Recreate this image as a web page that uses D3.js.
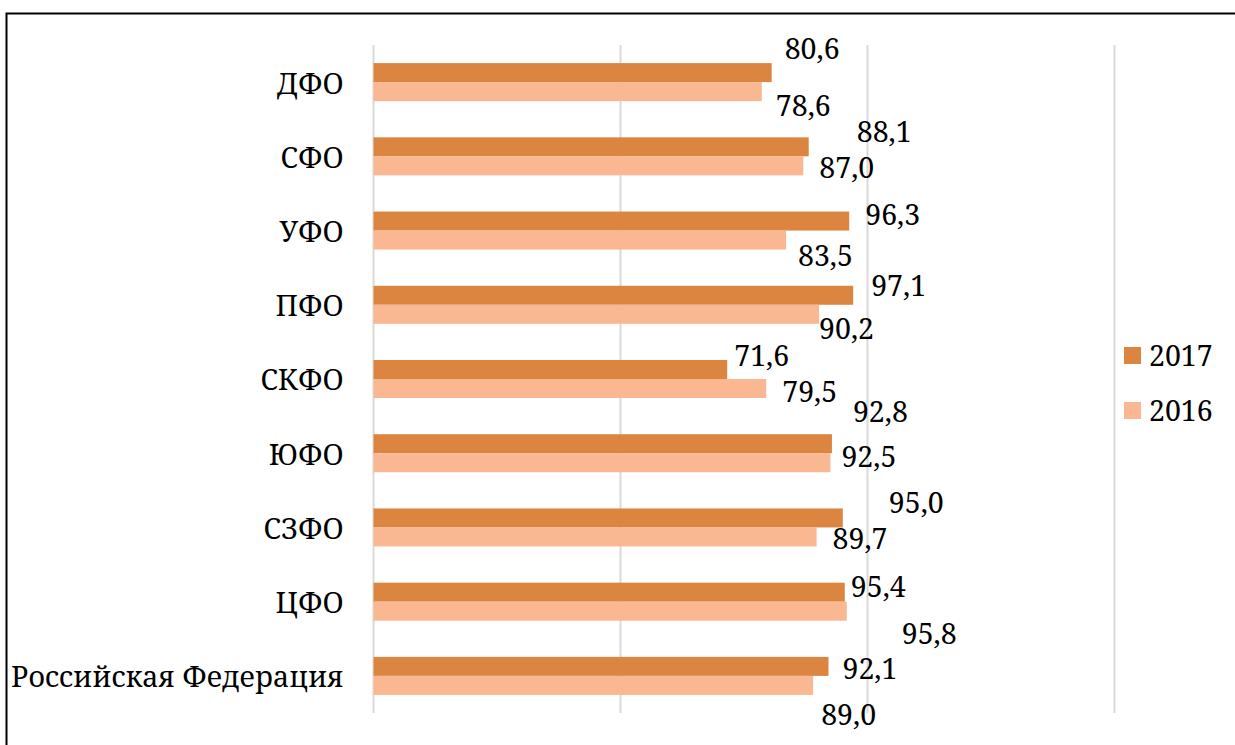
<!DOCTYPE html>
<html><head><meta charset="utf-8">
<script src="https://cdn.jsdelivr.net/npm/d3@7"></script>
<style>body{margin:0;background:#fff}svg{display:block}</style>
</head><body><svg id="c" width="1235" height="745"></svg>
<script>
const categories = ["ДФО","СФО","УФО","ПФО","СКФО","ЮФО","СЗФО","ЦФО","Российская Федерация"];
const values2017 = [80.6,88.1,96.3,97.1,71.6,92.8,95.0,95.4,92.1];
const values2016 = [78.6,87.0,83.5,90.2,79.5,92.5,89.7,95.8,89.0];
const seriesNames = ["2017","2016"];
const xTicks = [0,50,100,150];
// hand-placed label nudges (dx, dy in px from bar end / bar centre), as in the original
const nudge2017 = [[13,-24],[48,-15],[16,-6],[18,-10],[7,-14],[21,-32],[46,-15],[6,-5],[14,2]];
const nudge2016 = [[14,14],[16,2],[12,16],[0,14],[16,3],[11,-6],[16,2],[55,23],[8,29]];

const colors = ["#DC8541","#F9B792"];
const FONT = '"Noto Serif", serif';
const fs = 28.5;
const svg = d3.select("#c");
svg.append("rect").attr("x",6.5).attr("y",13.5).attr("width",1300).attr("height",800)
  .attr("fill","none").attr("stroke","#000").attr("stroke-width",2);

const x = d3.scaleLinear().domain([0,150]).range([373.5,1114.5]);
const y = d3.scaleBand().domain(categories).range([45,713]);
const sub = d3.scaleBand().domain(seriesNames).range([y.bandwidth()/2-19, y.bandwidth()/2+19]);

svg.append("g").selectAll("line").data(xTicks).join("line")
  .attr("x1",d=>x(d)).attr("x2",d=>x(d)).attr("y1",45).attr("y2",713)
  .attr("stroke","#d9d9d9").attr("stroke-width",2);

const series = [values2017, values2016];
const nudges = [nudge2017, nudge2016];
series.forEach((vals,s)=>{
  svg.append("g").selectAll("rect").data(vals).join("rect")
    .attr("x",x(0)).attr("y",(d,i)=>y(categories[i])+sub(seriesNames[s]))
    .attr("width",d=>x(d)-x(0)).attr("height",sub.bandwidth())
    .attr("fill",colors[s]);
  svg.append("g").selectAll("text").data(vals).join("text")
    .attr("x",(d,i)=>x(d)+nudges[s][i][0])
    .attr("y",(d,i)=>y(categories[i])+sub(seriesNames[s])+sub.bandwidth()/2+nudges[s][i][1])
    .attr("dy","0.36em").style("font-family",FONT).style("font-size",fs+"px").style("fill","#000")
    .text(d=>d3.format(".1f")(d).replace(".",","));
});

const yAxis = d3.axisLeft(y).tickSize(0).tickPadding(30);
const ga = svg.append("g").attr("transform",`translate(${x(0)},0)`).call(yAxis);
ga.select(".domain").remove();
ga.selectAll("text").attr("dy","0.40em").style("font-family",FONT).style("font-size",fs+"px").style("fill","#000");

const lg = svg.append("g");
seriesNames.forEach((n,i)=>{
  lg.append("rect").attr("x",1124).attr("y",347+i*55).attr("width",17).attr("height",17).attr("fill",colors[i]);
  lg.append("text").attr("x",1149).attr("y",355.5+i*55).attr("dy","0.36em")
    .style("font-family",FONT).style("font-size",fs+"px").style("fill","#000").text(n);
});
</script></body></html>
